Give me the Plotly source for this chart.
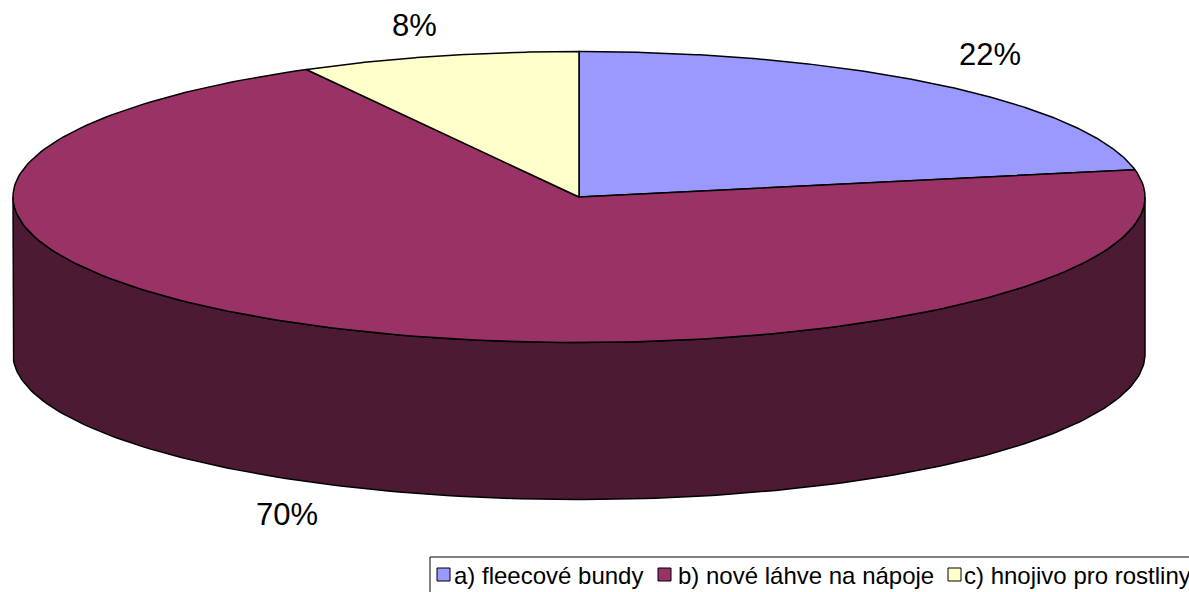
import numpy as np
import plotly.graph_objects as go

# ---- data ----
categories = ["a) fleecové bundy", "b) nové láhve na nápoje", "c) hnojivo pro rostliny"]
values = [22, 70, 8]
value_labels = ["22%", "70%", "8%"]

# ---- style ----
top_colors = ["#9999FF", "#993366", "#FFFFCC"]
side_colors = ["#4D4D80", "#4D1A33", "#808066"]
W, H = 1189, 592
CX, CY, RX, RY, DEPTH = 579, 197, 566, 145.5, 157
FONT = "Liberation Sans, Arial, sans-serif"


def ellipse_pts(a0, a1, dy=0.0, n=200):
    t = np.radians(np.linspace(a0, a1, n))
    return CX + RX * np.sin(t), CY - RY * np.cos(t) + dy


total = float(sum(values))
bounds = np.concatenate([[0.0], np.cumsum(values) / total * 360.0])

fig = go.Figure()

# side walls (front half: angles 90..270 measured clockwise from top)
for i in range(len(values)):
    a0, a1 = bounds[i], bounds[i + 1]
    lo, hi = max(a0, 90.0), min(a1, 270.0)
    if hi > lo:
        xt, yt = ellipse_pts(lo, hi)
        xb, yb = ellipse_pts(hi, lo, DEPTH)
        fig.add_trace(go.Scatter(
            x=np.concatenate([xt, xb, xt[:1]]), y=np.concatenate([yt, yb, yt[:1]]),
            mode="lines", fill="toself", fillcolor=side_colors[i],
            line=dict(color="black", width=1.5), hoverinfo="skip", showlegend=False))

# top faces
for i in range(len(values)):
    a0, a1 = bounds[i], bounds[i + 1]
    xa, ya = ellipse_pts(a0, a1)
    fig.add_trace(go.Scatter(
        x=np.concatenate([[CX], xa, [CX]]), y=np.concatenate([[CY], ya, [CY]]),
        mode="lines", fill="toself", fillcolor=top_colors[i],
        line=dict(color="black", width=1.5), name=categories[i],
        hoverinfo="name", showlegend=False))

annotations = []
# percentage labels outside slices
label_k = [(1.14, 1.27), (1.21, 1.22), (1.17, 1.22)]
for i in range(len(values)):
    mid = np.radians((bounds[i] + bounds[i + 1]) / 2)
    kx, ky = label_k[i]
    lx = CX + kx * RX * np.sin(mid)
    cy = -np.cos(mid)
    ly = CY + ky * RY * cy + (DEPTH if cy > 0 else 0)
    annotations.append(dict(x=lx, y=ly, xref="x", yref="y", text=value_labels[i],
                            showarrow=False, xanchor="center", yanchor="middle",
                            font=dict(family=FONT, size=31, color="black")))

# legend (manual so it can run past the right edge like the original)
shapes = [dict(type="rect", xref="x", yref="y", x0=430, x1=W + 20, y0=557, y1=H + 20,
               line=dict(color="black", width=1), fillcolor="white", layer="above")]
sq_x = [437, 658, 948]
txt_x = [452, 676, 962]
for i in range(len(values)):
    shapes.append(dict(type="rect", xref="x", yref="y", x0=sq_x[i], x1=sq_x[i] + 13,
                       y0=568, y1=581, line=dict(color="black", width=1),
                       fillcolor=top_colors[i], layer="above"))
    annotations.append(dict(x=txt_x[i], y=575, xref="x", yref="y", text=categories[i],
                            showarrow=False, xanchor="left", yanchor="middle",
                            font=dict(family=FONT, size=24, color="black")))

fig.update_layout(
    width=W, height=H, margin=dict(l=0, r=0, t=0, b=0),
    paper_bgcolor="white", plot_bgcolor="white",
    xaxis=dict(range=[0, W], visible=False, fixedrange=True),
    yaxis=dict(range=[H, 0], visible=False, fixedrange=True),
    shapes=shapes, annotations=annotations, showlegend=False,
)

fig.write_html("out.html", config={"displayModeBar": False},
               post_script="document.body.style.margin='0';document.body.style.overflow='hidden';")
